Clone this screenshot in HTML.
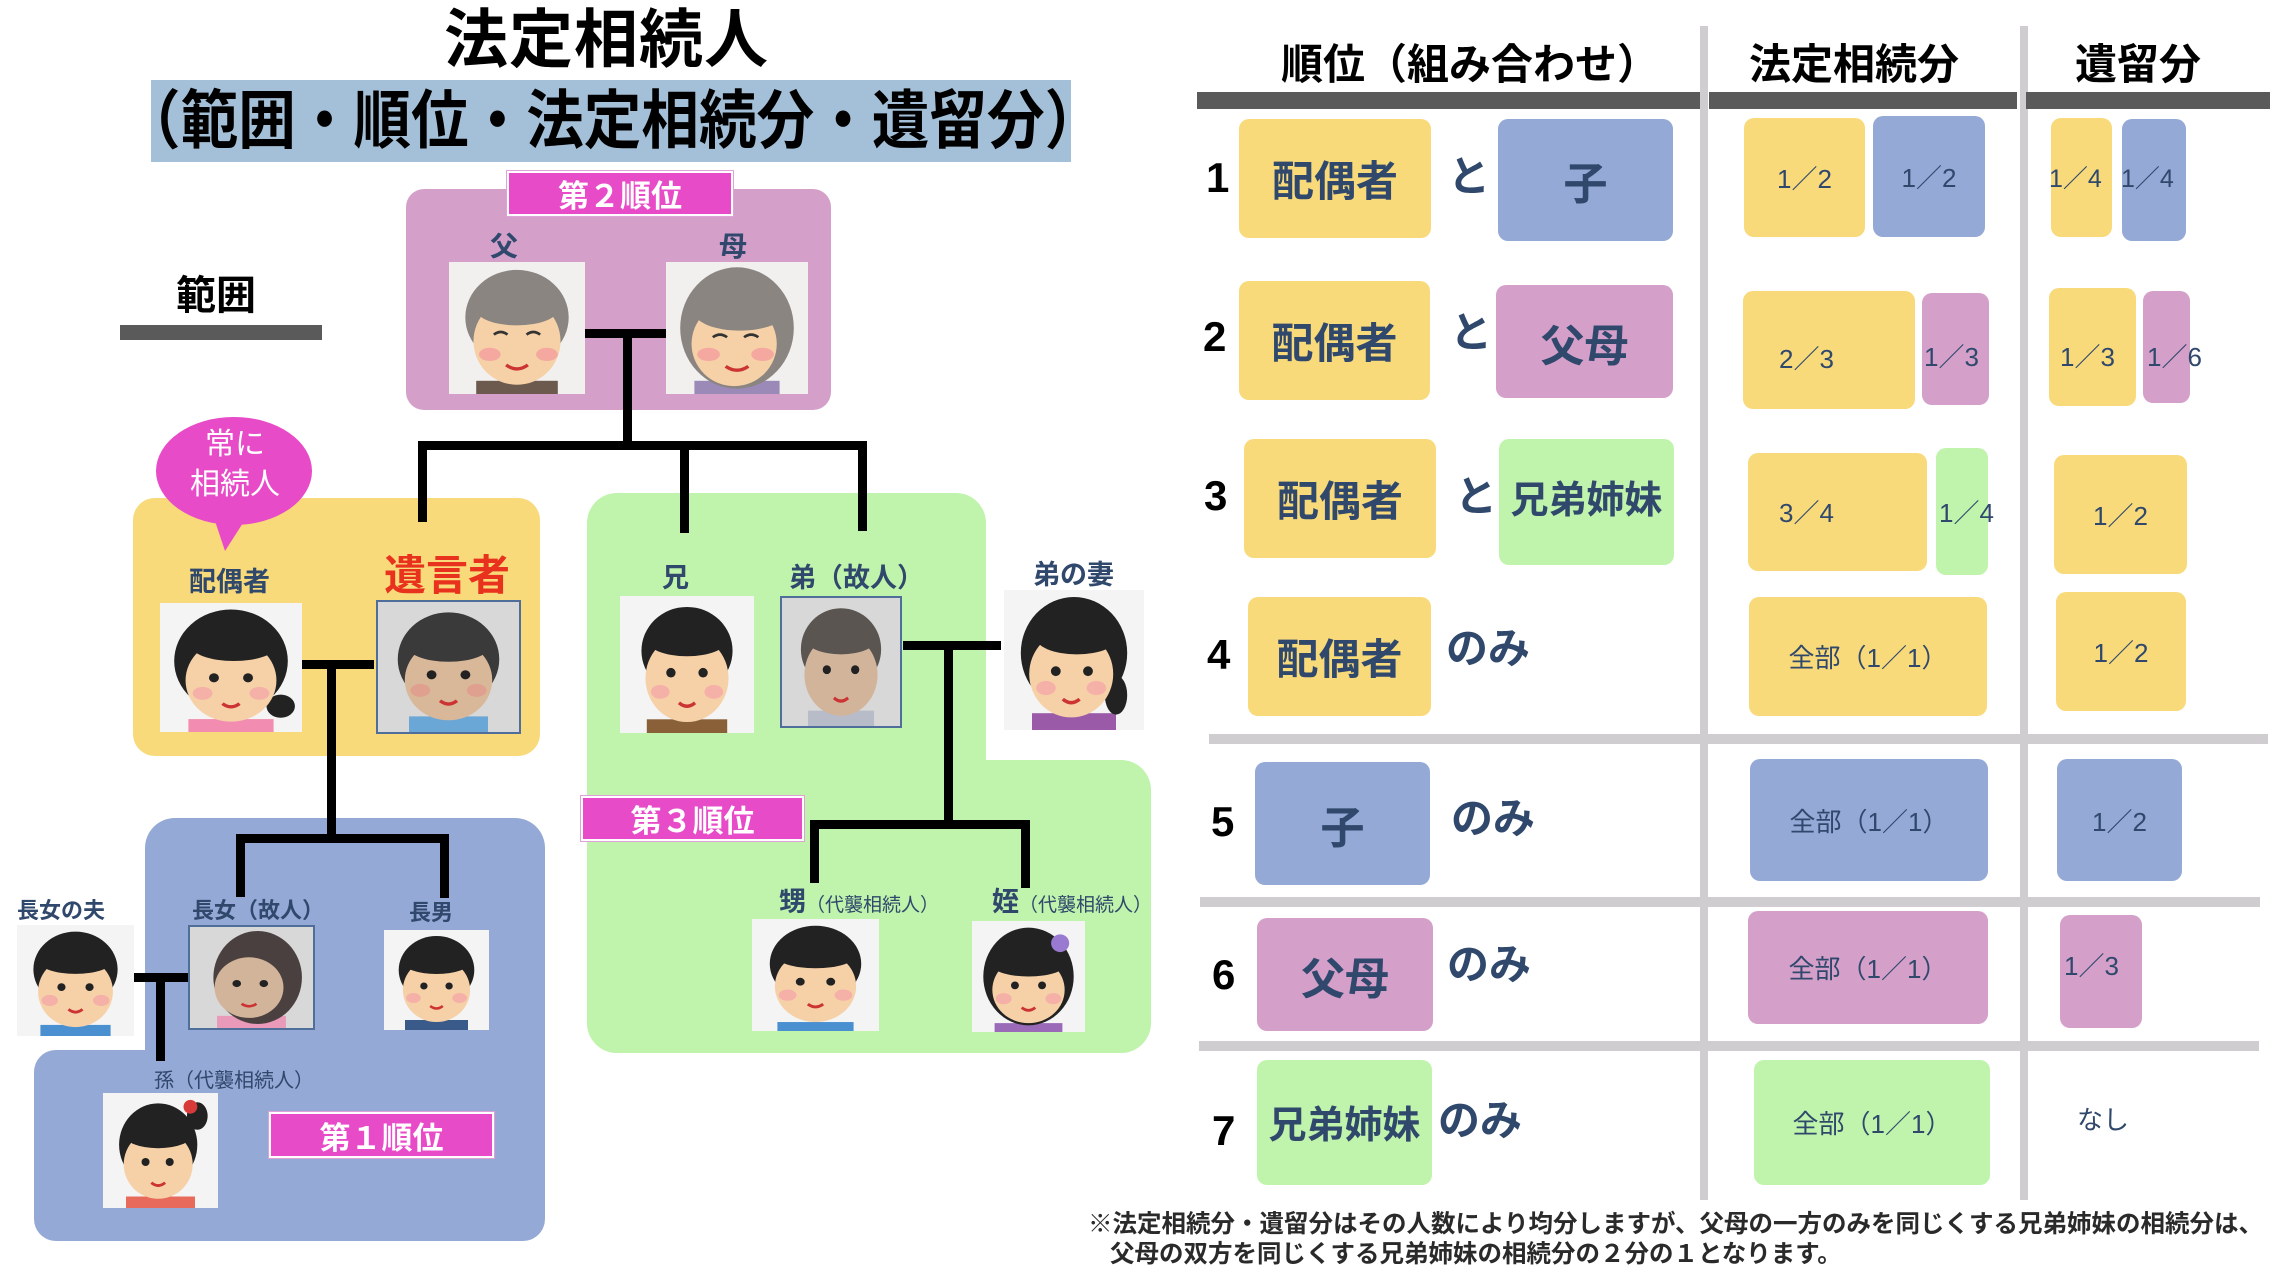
<!DOCTYPE html>
<html><head><meta charset="utf-8">
<style>
*{margin:0;padding:0;box-sizing:border-box}
body{width:2274px;height:1275px;background:#fff;position:relative;overflow:hidden;font-family:"Liberation Sans","Noto Sans CJK JP",sans-serif}
.a{position:absolute}
.t{position:absolute;white-space:nowrap;font-weight:bold;line-height:1}
.k{position:absolute;background:#000}
.n{color:#30486c}
.ph{position:absolute;overflow:hidden}
.ph svg{width:100%;height:100%;display:block}
.lab{position:absolute;background:#e84bc8;color:#fff;font-weight:bold;display:flex;align-items:center;justify-content:center;font-size:31px;border:2px solid #fff;box-shadow:0 0 0 1px #e0a0d8}
.y{background:#f8da7a}.b{background:#94a9d6}.p{background:#d4a0c9}.g{background:#c0f4ac}
.bx{position:absolute;border-radius:10px;display:flex;align-items:center;justify-content:center;color:#30486c;font-weight:bold}
.gl{position:absolute;background:#cfcdcf}
.num{position:absolute;font-size:42px;font-weight:bold;color:#000;line-height:1}
.sm{font-size:26px;font-weight:normal}
</style></head><body>

<!-- Title -->
<div class="t" style="left:444px;top:8px;font-size:64px;color:#000;letter-spacing:1px">法定相続人</div>
<div class="a" style="left:151px;top:80px;width:920px;height:82px;background:#a4c0d8"></div>
<div class="t" style="left:123px;top:89px;font-size:64px;color:#000;transform:scaleX(0.9);transform-origin:left top">（範囲・順位・法定相続分・遺留分）</div>

<!-- 範囲 -->
<div class="t" style="left:176px;top:276px;font-size:40px;color:#000">範囲</div>
<div class="a" style="left:120px;top:325px;width:202px;height:15px;background:#5a5a5a"></div>

<!-- pink group -->
<div class="a p" style="left:406px;top:189px;width:425px;height:221px;border-radius:18px"></div>
<div class="lab" style="left:507px;top:171px;width:226px;height:45px">第２順位</div>
<div class="t n" style="left:490px;top:233px;font-size:28px">父</div>
<div class="t n" style="left:719px;top:233px;font-size:28px">母</div>

<!-- yellow group -->
<div class="a y" style="left:133px;top:498px;width:407px;height:258px;border-radius:22px"></div>
<!-- blue group -->
<div class="a b" style="left:145px;top:818px;width:400px;height:423px;border-radius:30px"></div>
<div class="a b" style="left:34px;top:1050px;width:511px;height:191px;border-radius:22px"></div>
<!-- green group -->
<div class="a g" style="left:587px;top:493px;width:399px;height:560px;border-radius:30px"></div>
<div class="a g" style="left:587px;top:760px;width:564px;height:293px;border-radius:30px"></div>

<!-- callout -->
<svg class="a" style="left:150px;top:412px" width="170" height="145"><path d="M62 100 L75 139 L100 100 Z" fill="#e84bc8"/><ellipse cx="84" cy="59" rx="78" ry="54" fill="#e84bc8"/></svg>
<div class="t" style="left:205px;top:430px;font-size:30px;color:#fff;font-weight:normal">常に</div>
<div class="t" style="left:190px;top:470px;font-size:30px;color:#fff;font-weight:normal">相続人</div>

<div class="t n" style="left:189px;top:569px;font-size:27px">配偶者</div>
<div class="t" style="left:384px;top:555px;font-size:42px;color:#e8321e">遺言者</div>
<div class="t n" style="left:662px;top:565px;font-size:27px">兄</div>
<div class="t n" style="left:789px;top:565px;font-size:27px">弟（故人）</div>
<div class="t n" style="left:1033px;top:562px;font-size:27px">弟の妻</div>
<div class="t n" style="left:17px;top:900px;font-size:22px">長女の夫</div>
<div class="t n" style="left:192px;top:900px;font-size:22px">長女（故人）</div>
<div class="t n" style="left:409px;top:902px;font-size:22px">長男</div>
<div class="t n" style="left:154px;top:1071px;font-size:20px;font-weight:normal">孫（代襲相続人）</div>
<div class="t n" style="left:779px;top:889px;font-size:27px">甥<span style="font-size:19px;font-weight:normal">（代襲相続人）</span></div>
<div class="t n" style="left:992px;top:889px;font-size:27px">姪<span style="font-size:19px;font-weight:normal">（代襲相続人）</span></div>

<div class="lab" style="left:581px;top:796px;width:223px;height:45px">第３順位</div>
<div class="lab" style="left:269px;top:1112px;width:225px;height:46px">第１順位</div>

<!-- connectors -->
<div class="k" style="left:585px;top:329px;width:81px;height:9px"></div>
<div class="k" style="left:623px;top:329px;width:9px;height:120px"></div>
<div class="k" style="left:418px;top:441px;width:448px;height:9px"></div>
<div class="k" style="left:418px;top:441px;width:9px;height:81px"></div>
<div class="k" style="left:680px;top:441px;width:9px;height:92px"></div>
<div class="k" style="left:858px;top:441px;width:9px;height:90px"></div>

<div class="k" style="left:301px;top:660px;width:73px;height:9px"></div>
<div class="k" style="left:327px;top:660px;width:9px;height:182px"></div>
<div class="k" style="left:236px;top:834px;width:213px;height:9px"></div>
<div class="k" style="left:236px;top:834px;width:9px;height:63px"></div>
<div class="k" style="left:440px;top:834px;width:9px;height:64px"></div>

<div class="k" style="left:134px;top:973px;width:54px;height:9px"></div>
<div class="k" style="left:156px;top:973px;width:9px;height:88px"></div>

<div class="k" style="left:903px;top:641px;width:98px;height:9px"></div>
<div class="k" style="left:944px;top:641px;width:9px;height:187px"></div>
<div class="k" style="left:810px;top:820px;width:219px;height:9px"></div>
<div class="k" style="left:810px;top:820px;width:9px;height:63px"></div>
<div class="k" style="left:1021px;top:820px;width:9px;height:68px"></div>

<!-- photos -->
<div class="ph" style="left:449px;top:262px;width:136px;height:132px"><svg viewBox="0 0 100 100" preserveAspectRatio="none"><rect width="100" height="100" fill="#f2f0ef"/><rect x="20" y="90" width="60" height="10" fill="#6b5a4d"/><ellipse cx="50" cy="42" rx="38" ry="36" fill="#8a8580"/><ellipse cx="50" cy="60" rx="32" ry="33" fill="#f6d1a8"/><ellipse cx="50" cy="36" rx="30" ry="12" fill="#8a8580"/><ellipse cx="30" cy="70" rx="8" ry="5" fill="#f5a8a0"/><ellipse cx="72" cy="70" rx="8" ry="5" fill="#f5a8a0"/><path d="M33 55 q5 -4 10 0 M57 55 q5 -4 10 0" stroke="#333" stroke-width="2" fill="none"/><path d="M42 78 q8 6 16 0" stroke="#c33" stroke-width="2.5" fill="none"/></svg></div>
<div class="ph" style="left:666px;top:262px;width:142px;height:132px"><svg viewBox="0 0 100 100" preserveAspectRatio="none"><rect width="100" height="100" fill="#f2f0ef"/><rect x="20" y="90" width="60" height="10" fill="#9b8ab8"/><ellipse cx="50" cy="50" rx="40" ry="46" fill="#8a8580"/><ellipse cx="48" cy="62" rx="30" ry="32" fill="#f6d1a8"/><ellipse cx="52" cy="38" rx="32" ry="14" fill="#8a8580"/><ellipse cx="30" cy="70" rx="8" ry="5" fill="#f5a8a0"/><ellipse cx="68" cy="70" rx="8" ry="5" fill="#f5a8a0"/><path d="M33 57 q5 -4 10 0 M55 57 q5 -4 10 0" stroke="#333" stroke-width="2" fill="none"/><path d="M42 79 q8 6 16 0" stroke="#c33" stroke-width="2.5" fill="none"/></svg></div>

<div class="ph" style="left:160px;top:603px;width:142px;height:129px"><svg viewBox="0 0 100 100" preserveAspectRatio="none"><rect width="100" height="100" fill="#f4f4f4"/><rect x="20" y="90" width="60" height="10" fill="#f28cb0"/><ellipse cx="50" cy="45" rx="40" ry="40" fill="#222"/><ellipse cx="85" cy="80" rx="10" ry="9" fill="#222"/><ellipse cx="50" cy="60" rx="32" ry="32" fill="#f6d1a8"/><ellipse cx="52" cy="33" rx="30" ry="12" fill="#222"/><ellipse cx="30" cy="70" rx="7" ry="5" fill="#f5b0a8"/><ellipse cx="70" cy="70" rx="7" ry="5" fill="#f5b0a8"/><circle cx="38" cy="58" r="3.5" fill="#222"/><circle cx="62" cy="58" r="3.5" fill="#222"/><path d="M44 78 q6 5 12 0" stroke="#c33" stroke-width="2.5" fill="none"/></svg></div>
<div class="ph" style="left:376px;top:600px;width:145px;height:134px;border:2px solid #4f6f9a"><svg viewBox="0 0 100 100" preserveAspectRatio="none"><rect width="100" height="100" fill="#d8d8d8"/><rect x="22" y="88" width="56" height="12" fill="#6aa6d6"/><ellipse cx="50" cy="44" rx="36" ry="36" fill="#3a3a3a"/><ellipse cx="50" cy="60" rx="31" ry="31" fill="#d9b89a"/><ellipse cx="50" cy="33" rx="30" ry="13" fill="#3a3a3a"/><ellipse cx="30" cy="68" rx="7" ry="5" fill="#e0a090"/><ellipse cx="70" cy="68" rx="7" ry="5" fill="#e0a090"/><circle cx="38" cy="56" r="3.5" fill="#222"/><circle cx="62" cy="56" r="3.5" fill="#222"/><path d="M44 76 q6 5 12 0" stroke="#c33" stroke-width="2.5" fill="none"/></svg></div>

<div class="ph" style="left:620px;top:596px;width:134px;height:137px"><svg viewBox="0 0 100 100" preserveAspectRatio="none"><rect width="100" height="100" fill="#f4f4f4"/><rect x="20" y="90" width="60" height="10" fill="#8a6038"/><ellipse cx="50" cy="40" rx="34" ry="32" fill="#222"/><ellipse cx="50" cy="60" rx="31" ry="32" fill="#f6d1a8"/><ellipse cx="50" cy="32" rx="30" ry="12" fill="#222"/><ellipse cx="30" cy="70" rx="7" ry="5" fill="#f5b0a8"/><ellipse cx="70" cy="70" rx="7" ry="5" fill="#f5b0a8"/><circle cx="38" cy="56" r="3.5" fill="#222"/><circle cx="62" cy="56" r="3.5" fill="#222"/><path d="M44 78 q6 5 12 0" stroke="#c33" stroke-width="2.5" fill="none"/></svg></div>
<div class="ph" style="left:780px;top:596px;width:122px;height:132px;border:2px solid #4f6f9a"><svg viewBox="0 0 100 100" preserveAspectRatio="none"><rect width="100" height="100" fill="#d8d8d8"/><rect x="22" y="88" width="56" height="12" fill="#b8bcc8"/><ellipse cx="50" cy="40" rx="34" ry="32" fill="#5a5550"/><ellipse cx="50" cy="60" rx="31" ry="32" fill="#d2b49a"/><ellipse cx="50" cy="32" rx="30" ry="12" fill="#5a5550"/><circle cx="38" cy="56" r="3.5" fill="#222"/><circle cx="62" cy="56" r="3.5" fill="#222"/><path d="M44 78 q6 5 12 0" stroke="#c33" stroke-width="2.5" fill="none"/></svg></div>
<div class="ph" style="left:1004px;top:590px;width:140px;height:140px"><svg viewBox="0 0 100 100" preserveAspectRatio="none"><rect width="100" height="100" fill="#f4f4f4"/><rect x="20" y="88" width="60" height="12" fill="#9a5aa8"/><ellipse cx="50" cy="45" rx="38" ry="40" fill="#222"/><ellipse cx="80" cy="75" rx="8" ry="14" fill="#222"/><ellipse cx="48" cy="60" rx="30" ry="31" fill="#f6d1a8"/><ellipse cx="52" cy="33" rx="30" ry="13" fill="#222"/><circle cx="37" cy="58" r="3.5" fill="#222"/><circle cx="60" cy="58" r="3.5" fill="#222"/><ellipse cx="30" cy="70" rx="7" ry="5" fill="#f5b0a8"/><ellipse cx="66" cy="70" rx="7" ry="5" fill="#f5b0a8"/><path d="M42 78 q6 5 12 0" stroke="#c33" stroke-width="2.5" fill="none"/></svg></div>

<div class="ph" style="left:17px;top:925px;width:117px;height:111px"><svg viewBox="0 0 100 100" preserveAspectRatio="none"><rect width="100" height="100" fill="#f4f4f4"/><rect x="20" y="90" width="60" height="10" fill="#4a90d0"/><ellipse cx="50" cy="40" rx="36" ry="34" fill="#222"/><ellipse cx="50" cy="60" rx="32" ry="32" fill="#f6d1a8"/><ellipse cx="50" cy="32" rx="32" ry="12" fill="#222"/><ellipse cx="28" cy="68" rx="7" ry="5" fill="#f5b0a8"/><ellipse cx="72" cy="68" rx="7" ry="5" fill="#f5b0a8"/><circle cx="38" cy="56" r="3.5" fill="#222"/><circle cx="62" cy="56" r="3.5" fill="#222"/><path d="M44 76 q6 5 12 0" stroke="#c33" stroke-width="2.5" fill="none"/></svg></div>
<div class="ph" style="left:188px;top:925px;width:127px;height:105px;border:2px solid #4f6f9a"><svg viewBox="0 0 100 100" preserveAspectRatio="none"><rect width="100" height="100" fill="#d8d8d8"/><rect x="22" y="88" width="56" height="12" fill="#e89ab8"/><ellipse cx="55" cy="50" rx="36" ry="46" fill="#4a4040"/><ellipse cx="48" cy="60" rx="28" ry="30" fill="#d2b49a"/><circle cx="38" cy="56" r="3.5" fill="#222"/><circle cx="60" cy="56" r="3.5" fill="#222"/><path d="M42 76 q6 5 12 0" stroke="#c33" stroke-width="2.5" fill="none"/></svg></div>
<div class="ph" style="left:384px;top:930px;width:105px;height:100px"><svg viewBox="0 0 100 100" preserveAspectRatio="none"><rect width="100" height="100" fill="#f4f4f4"/><rect x="20" y="90" width="60" height="10" fill="#3a5a8a"/><ellipse cx="50" cy="40" rx="36" ry="34" fill="#222"/><ellipse cx="50" cy="60" rx="32" ry="32" fill="#f6d1a8"/><ellipse cx="50" cy="32" rx="32" ry="12" fill="#222"/><ellipse cx="28" cy="68" rx="7" ry="5" fill="#f5b0a8"/><ellipse cx="72" cy="68" rx="7" ry="5" fill="#f5b0a8"/><circle cx="38" cy="56" r="3.5" fill="#222"/><circle cx="62" cy="56" r="3.5" fill="#222"/><path d="M44 76 q6 5 12 0" stroke="#c33" stroke-width="2.5" fill="none"/></svg></div>
<div class="ph" style="left:103px;top:1093px;width:115px;height:115px"><svg viewBox="0 0 100 100" preserveAspectRatio="none"><rect width="100" height="100" fill="#f4f4f4"/><rect x="20" y="90" width="60" height="10" fill="#e86a5a"/><ellipse cx="48" cy="45" rx="34" ry="36" fill="#222"/><ellipse cx="82" cy="20" rx="9" ry="12" fill="#222"/><circle cx="76" cy="12" r="6" fill="#d83a3a"/><ellipse cx="48" cy="62" rx="30" ry="30" fill="#f6d1a8"/><ellipse cx="48" cy="36" rx="30" ry="12" fill="#222"/><circle cx="37" cy="60" r="3.5" fill="#222"/><circle cx="58" cy="60" r="3.5" fill="#222"/><path d="M42 78 q6 5 12 0" stroke="#c33" stroke-width="2.5" fill="none"/></svg></div>
<div class="ph" style="left:752px;top:919px;width:127px;height:112px"><svg viewBox="0 0 100 100" preserveAspectRatio="none"><rect width="100" height="100" fill="#f4f4f4"/><rect x="20" y="92" width="60" height="8" fill="#4a90d0"/><ellipse cx="50" cy="40" rx="36" ry="34" fill="#222"/><ellipse cx="50" cy="60" rx="32" ry="32" fill="#f6d1a8"/><ellipse cx="50" cy="32" rx="32" ry="12" fill="#222"/><ellipse cx="28" cy="68" rx="7" ry="5" fill="#f5b0a8"/><ellipse cx="72" cy="68" rx="7" ry="5" fill="#f5b0a8"/><circle cx="38" cy="56" r="3.5" fill="#222"/><circle cx="62" cy="56" r="3.5" fill="#222"/><path d="M44 76 q6 5 12 0" stroke="#c33" stroke-width="2.5" fill="none"/></svg></div>
<div class="ph" style="left:972px;top:921px;width:113px;height:111px"><svg viewBox="0 0 100 100" preserveAspectRatio="none"><rect width="100" height="100" fill="#f4f4f4"/><rect x="20" y="92" width="60" height="8" fill="#9a6ab8"/><ellipse cx="50" cy="50" rx="40" ry="44" fill="#222"/><ellipse cx="50" cy="62" rx="32" ry="30" fill="#f6d1a8"/><ellipse cx="50" cy="38" rx="34" ry="12" fill="#222"/><circle cx="78" cy="20" r="8" fill="#9a7ad0"/><ellipse cx="28" cy="70" rx="7" ry="5" fill="#f5b0a8"/><ellipse cx="72" cy="70" rx="7" ry="5" fill="#f5b0a8"/><circle cx="38" cy="58" r="3.5" fill="#222"/><circle cx="62" cy="58" r="3.5" fill="#222"/><path d="M44 78 q6 5 12 0" stroke="#c33" stroke-width="2.5" fill="none"/></svg></div>

<!-- ============ TABLE ============ -->
<div class="gl" style="left:1700px;top:26px;width:8px;height:1174px"></div>
<div class="gl" style="left:2020px;top:26px;width:8px;height:1174px"></div>
<div class="gl" style="left:1209px;top:734px;width:1059px;height:10px"></div>
<div class="gl" style="left:1200px;top:897px;width:1060px;height:10px"></div>
<div class="gl" style="left:1199px;top:1041px;width:1060px;height:10px"></div>

<div class="t" style="left:1281px;top:44px;font-size:42px;color:#000">順位（組み合わせ）</div>
<div class="t" style="left:1749px;top:44px;font-size:42px;color:#000">法定相続分</div>
<div class="t" style="left:2075px;top:44px;font-size:42px;color:#000">遺留分</div>
<div class="a" style="left:1197px;top:92px;width:503px;height:17px;background:#5a5a5a"></div>
<div class="a" style="left:1709px;top:92px;width:308px;height:17px;background:#5a5a5a"></div>
<div class="a" style="left:2026px;top:92px;width:244px;height:17px;background:#5a5a5a"></div>

<!-- row 1 -->
<div class="num" style="left:1206px;top:157px">1</div>
<div class="bx y" style="left:1239px;top:119px;width:192px;height:119px;font-size:42px">配偶者</div>
<div class="t n" style="left:1448px;top:156px;font-size:42px">と</div>
<div class="bx b" style="left:1498px;top:119px;width:175px;height:122px;font-size:44px">子</div>
<div class="bx y sm" style="left:1744px;top:118px;width:121px;height:119px">1／2</div>
<div class="bx b sm" style="left:1873px;top:116px;width:112px;height:121px">1／2</div>
<div class="bx y" style="left:2051px;top:118px;width:61px;height:119px"></div>
<div class="bx b" style="left:2122px;top:119px;width:64px;height:122px"></div>
<div class="t n" style="left:2049px;top:167px;font-size:25px;font-weight:normal">1／4</div>
<div class="t n" style="left:2121px;top:167px;font-size:25px;font-weight:normal">1／4</div>

<!-- row 2 -->
<div class="num" style="left:1203px;top:316px">2</div>
<div class="bx y" style="left:1239px;top:281px;width:191px;height:119px;font-size:42px">配偶者</div>
<div class="t n" style="left:1450px;top:312px;font-size:42px">と</div>
<div class="bx p" style="left:1496px;top:285px;width:177px;height:113px;font-size:44px">父母</div>
<div class="bx y" style="left:1743px;top:291px;width:172px;height:118px"></div>
<div class="t n sm" style="left:1779px;top:346px">2／3</div>
<div class="bx p" style="left:1922px;top:293px;width:67px;height:112px"></div>
<div class="t n sm" style="left:1924px;top:344px">1／3</div>
<div class="bx y" style="left:2049px;top:288px;width:87px;height:118px"></div>
<div class="t n sm" style="left:2060px;top:344px">1／3</div>
<div class="bx p" style="left:2143px;top:291px;width:47px;height:112px"></div>
<div class="t n sm" style="left:2147px;top:344px">1／6</div>

<!-- row 3 -->
<div class="num" style="left:1204px;top:475px">3</div>
<div class="bx y" style="left:1244px;top:439px;width:192px;height:119px;font-size:42px">配偶者</div>
<div class="t n" style="left:1455px;top:476px;font-size:42px">と</div>
<div class="bx g" style="left:1499px;top:439px;width:175px;height:126px;font-size:38px;align-items:flex-start;padding-top:30px">兄弟姉妹</div>
<div class="bx y" style="left:1748px;top:453px;width:179px;height:118px"></div>
<div class="t n sm" style="left:1779px;top:500px">3／4</div>
<div class="bx g" style="left:1936px;top:448px;width:52px;height:127px"></div>
<div class="t n sm" style="left:1939px;top:500px">1／4</div>
<div class="bx y sm" style="left:2054px;top:455px;width:133px;height:119px">1／2</div>

<!-- row 4 -->
<div class="num" style="left:1207px;top:634px">4</div>
<div class="bx y" style="left:1248px;top:597px;width:183px;height:119px;font-size:42px">配偶者</div>
<div class="t n" style="left:1446px;top:628px;font-size:42px">のみ</div>
<div class="bx y sm" style="left:1749px;top:597px;width:238px;height:119px">全部（1／1）</div>
<div class="bx y sm" style="left:2056px;top:592px;width:130px;height:119px">1／2</div>

<!-- row 5 -->
<div class="num" style="left:1211px;top:801px">5</div>
<div class="bx b" style="left:1255px;top:762px;width:175px;height:123px;font-size:44px">子</div>
<div class="t n" style="left:1451px;top:798px;font-size:42px">のみ</div>
<div class="bx b sm" style="left:1750px;top:759px;width:238px;height:122px">全部（1／1）</div>
<div class="bx b sm" style="left:2057px;top:759px;width:125px;height:122px">1／2</div>

<!-- row 6 -->
<div class="num" style="left:1212px;top:954px">6</div>
<div class="bx p" style="left:1257px;top:918px;width:176px;height:113px;font-size:44px">父母</div>
<div class="t n" style="left:1447px;top:944px;font-size:42px">のみ</div>
<div class="bx p sm" style="left:1748px;top:911px;width:240px;height:113px">全部（1／1）</div>
<div class="bx p" style="left:2060px;top:915px;width:82px;height:113px"></div>
<div class="t n sm" style="left:2064px;top:953px">1／3</div>

<!-- row 7 -->
<div class="num" style="left:1212px;top:1110px">7</div>
<div class="bx g" style="left:1257px;top:1060px;width:175px;height:125px;font-size:38px;align-items:flex-start;padding-top:34px">兄弟姉妹</div>
<div class="t n" style="left:1438px;top:1100px;font-size:42px">のみ</div>
<div class="bx g sm" style="left:1754px;top:1060px;width:236px;height:125px">全部（1／1）</div>
<div class="t n sm" style="left:2077px;top:1107px">なし</div>

<div class="t" style="left:1088px;top:1213px;font-size:24.5px;color:#2a2a2a">※法定相続分・遺留分はその人数により均分しますが、父母の一方のみを同じくする兄弟姉妹の相続分は、</div>
<div class="t" style="left:1110px;top:1243px;font-size:24.5px;color:#2a2a2a">父母の双方を同じくする兄弟姉妹の相続分の２分の１となります。</div>
</body></html>
